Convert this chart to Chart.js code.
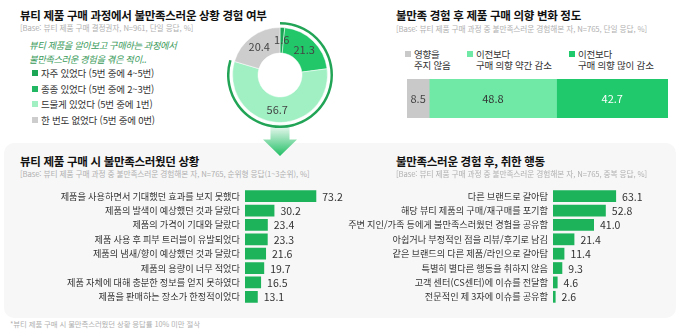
<!DOCTYPE html>
<html lang="ko">
<head>
<meta charset="utf-8">
<script src="https://cdn.jsdelivr.net/npm/chart.js@4.4.1/dist/chart.umd.min.js"></script>
<style>
  html, body { margin: 0; padding: 0; background: #fff; }
  body { width: 680px; height: 336px; position: relative; overflow: hidden;
         font-family: "Noto Sans CJK KR", "Noto Sans", sans-serif; color: #333; }
  .abs { position: absolute; white-space: nowrap; }
  .title { font-size: 11.5px; font-weight: 700; color: #111; letter-spacing: -0.3px; }
  .base { font-size: 7.7px; color: #b0b0b0; letter-spacing: -0.1px; }
  .panel { position: absolute; left: 4px; top: 143px; width: 672px; height: 175px;
           background: #f7f7f7; border-radius: 10px; }
  .sq { display: inline-block; width: 6px; height: 6px; margin-right: 3px; vertical-align: 1px; }
  .leg { font-size: 9.5px; color: #333; line-height: 11px; letter-spacing: -0.2px; }
  .arrow { position: absolute; left: 263px; top: 123px; width: 34px; height: 33px;
           background: linear-gradient(to bottom, rgba(255,255,255,0.9), #22bf65);
           clip-path: polygon(22% 0, 78% 0, 78% 50%, 100% 50%, 50% 100%, 0 50%, 22% 50%); }
  canvas { position: absolute; }
</style>
</head>
<body>

<div class="panel"></div>
<div class="arrow"></div>

<!-- 상단 좌측 -->
<div class="abs title" style="left:20px; top:7px;">뷰티 제품 구매 과정에서 불만족스러운 상황 경험 여부</div>
<div class="abs base" style="left:20px; top:22px;">[Base: 뷰티 제품 구매 결정권자, N=961, 단일 응답, %]</div>
<div class="abs" style="left:29px; top:39px; font-size:9.3px; font-style:italic; color:#3a9a5a; line-height:13.5px; letter-spacing:-0.4px;">
  뷰티 제품을 알아보고 구매하는 과정에서<br>불만족스러운 경험을 겪은 적이..
</div>
<div id="donutLegend" class="abs leg" style="left:32px; top:68px;"></div>

<canvas id="donut" style="left:227px; top:22px;" width="106" height="106"></canvas>

<!-- 상단 우측 -->
<div class="abs title" style="left:396px; top:7px;">불만족 경험 후 제품 구매 의향 변화 정도</div>
<div class="abs base" style="left:396px; top:23px;">[Base: 뷰티 제품 구매 과정 중 불만족스러운 경험해본 자, N=765, 단일 응답, %]</div>
<div id="stackLegend"></div>
<canvas id="stack" style="left:407px; top:79px;" width="261" height="39"></canvas>

<!-- 하단 -->
<div class="abs title" style="left:20px; top:153px;">뷰티 제품 구매 시 불만족스러웠던 상황</div>
<div class="abs base" style="left:20px; top:168px;">[Base: 뷰티 제품 구매 과정 중 불만족스러운 경험해본 자, N=765, 순위형 응답(1~3순위), %]</div>
<canvas id="barLeft" style="left:0px; top:189px;" width="350" height="115"></canvas>

<div class="abs title" style="left:396px; top:153px;">불만족스러운 경험 후, 취한 행동</div>
<div class="abs base" style="left:396px; top:168px;">[Base: 뷰티 제품 구매 과정 중 불만족스러운 경험해본 자, N=765, 중복 응답, %]</div>
<canvas id="barRight" style="left:345px; top:189px;" width="335" height="115"></canvas>

<div class="abs base" style="left:10px; top:318px; font-size:7.4px;">*뷰티 제품 구매 시 불만족스러웠던 상황 응답률 10% 미만 절삭</div>

<script>
// 경험 여부 (도넛)
const experienceLabels = ['자주 있었다 (5번 중에 4~5번)', '종종 있었다 (5번 중에 2~3번)', '드물게 있었다 (5번 중에 1번)', '한 번도 없었다 (5번 중에 0번)'];
const experienceValues = [1.6, 21.3, 56.7, 20.4];
const experienceColors = ['#1aa655', '#22c76a', '#a0f0c4', '#cdcdcd'];
const experienceLegendColors = ['#1aa655', '#22b863', '#a0f0c4', '#cdcdcd'];

// 구매 의향 변화 (누적 막대)
const intentLabels = [['영향을', '주지 않음'], ['이전보다', '구매 의향 약간 감소'], ['이전보다', '구매 의향 많이 감소']];
const intentValues = [8.5, 48.8, 42.7];
const intentColors = ['#c9c9c9', '#70e8a6', '#20c96b'];
const intentTextColors = ['#444', '#333', '#fff'];
const intentLegendX = [405, 467, 569];

// 불만족스러웠던 상황
const situationLabels = [
  '제품을 사용하면서 기대했던 효과를 보지 못했다',
  '제품의 발색이 예상했던 것과 달랐다',
  '제품의 가격이 기대와 달랐다',
  '제품 사용 후 피부 트러블이 유발되었다',
  '제품의 냄새/향이 예상했던 것과 달랐다',
  '제품의 용량이 너무 적었다',
  '제품 자체에 대해 충분한 정보를 얻지 못하였다',
  '제품을 판매하는 장소가 한정적이었다'
];
const situationValues = [73.2, 30.2, 23.4, 23.3, 21.6, 19.7, 16.5, 13.1];

// 불만족 경험 후 취한 행동
const actionLabels = [
  '다른 브랜드로 갈아탐',
  '해당 뷰티 제품의 구매/재구매를 포기함',
  '주변 지인/가족 등에게 불만족스러웠던 경험을 공유함',
  '아쉽거나 부정적인 점을 리뷰/후기로 남김',
  '같은 브랜드의 다른 제품/라인으로 갈아탐',
  '특별히 별다른 행동을 취하지 않음',
  '고객 센터(CS센터)에 이슈를 전달함',
  '전문적인 제 3자에 이슈를 공유함'
];
const actionValues = [63.1, 52.8, 41.0, 21.4, 11.4, 9.3, 4.6, 2.6];

const barColor = '#1db35b';
const FONT = '"Noto Sans CJK KR", "Noto Sans", sans-serif';

// 범례 만들기
document.getElementById('donutLegend').innerHTML = experienceLabels.map((l, i) =>
  `<div style="height:15.7px"><span class="sq" style="background:${experienceLegendColors[i]}"></span>${l}</div>`
).join('');

document.getElementById('stackLegend').innerHTML = intentLabels.map((l, i) =>
  `<div class="abs leg" style="left:${intentLegendX[i]}px; top:49px;">` +
  `<span class="sq" style="background:${intentColors[i]}"></span>${l[0]}<br>` +
  `<span style="display:inline-block;width:9px"></span>${l[1]}</div>`
).join('');

// 도넛 위 숫자
const donutLabels = {
  id: 'donutLabels',
  afterDatasetsDraw(chart) {
    const ctx = chart.ctx;
    const meta = chart.getDatasetMeta(2);
    ctx.save();
    ctx.font = '11px ' + FONT;
    ctx.fillStyle = '#444';
    ctx.textAlign = 'center';
    ctx.textBaseline = 'middle';
    meta.data.forEach((arc, i) => {
      const p = arc.tooltipPosition();
      ctx.fillText(experienceValues[i].toFixed(1), p.x, p.y);
    });
    ctx.restore();
  }
};

const experienceTotal = experienceValues.reduce((a, b) => a + b, 0);
const experienceYes = experienceValues[0] + experienceValues[1] + experienceValues[2];

new Chart(document.getElementById('donut'), {
  type: 'doughnut',
  data: {
    labels: experienceLabels,
    datasets: [
      { data: [experienceYes, experienceTotal - experienceYes], backgroundColor: ['#22a456', 'rgba(0,0,0,0)'], borderWidth: 0, weight: 2.5 },
      { data: [100], backgroundColor: ['rgba(0,0,0,0)'], borderWidth: 0, weight: 3 },
      { data: experienceValues, backgroundColor: experienceColors, borderColor: '#fff', borderWidth: 0.5, weight: 25.5 }
    ]
  },
  options: {
    responsive: false,
    animation: false,
    cutout: 22,
    layout: { padding: 0 },
    plugins: { legend: { display: false }, tooltip: { enabled: false } }
  },
  plugins: [donutLabels]
});

// 누적 막대 숫자
const stackLabels = {
  id: 'stackLabels',
  afterDatasetsDraw(chart) {
    const ctx = chart.ctx;
    ctx.save();
    ctx.font = '11px ' + FONT;
    ctx.textAlign = 'center';
    ctx.textBaseline = 'middle';
    chart.data.datasets.forEach((ds, i) => {
      const bar = chart.getDatasetMeta(i).data[0];
      ctx.fillStyle = intentTextColors[i];
      ctx.fillText(ds.data[0].toFixed(1), (bar.x + bar.base) / 2, bar.y);
    });
    ctx.restore();
  }
};

new Chart(document.getElementById('stack'), {
  type: 'bar',
  data: {
    labels: [''],
    datasets: intentValues.map((v, i) => ({
      label: intentLabels[i].join(' '),
      data: [v],
      backgroundColor: intentColors[i],
      barPercentage: 1,
      categoryPercentage: 1
    }))
  },
  options: {
    indexAxis: 'y',
    responsive: false,
    animation: false,
    layout: { padding: 0 },
    scales: {
      x: { display: false, stacked: true, min: 0, max: 100 },
      y: { display: false, stacked: true }
    },
    plugins: { legend: { display: false }, tooltip: { enabled: false } }
  },
  plugins: [stackLabels]
});

// 가로 막대 값 표시
const valueLabels = {
  id: 'valueLabels',
  afterDatasetsDraw(chart) {
    const ctx = chart.ctx;
    const meta = chart.getDatasetMeta(0);
    ctx.save();
    ctx.font = '10.5px ' + FONT;
    ctx.fillStyle = '#333';
    ctx.textAlign = 'left';
    ctx.textBaseline = 'middle';
    meta.data.forEach((bar, i) => {
      ctx.fillText(chart.data.datasets[0].data[i].toFixed(1), bar.x + 6, bar.y + 0.5);
    });
    ctx.restore();
  }
};

function makeBarChart(id, labels, values, axisWidth, padRight) {
  return new Chart(document.getElementById(id), {
    type: 'bar',
    data: {
      labels: labels,
      datasets: [{
        data: values,
        backgroundColor: barColor,
        barPercentage: 0.82,
        categoryPercentage: 1
      }]
    },
    options: {
      indexAxis: 'y',
      responsive: false,
      animation: false,
      layout: { padding: { left: 0, right: padRight, top: 0, bottom: 0 } },
      scales: {
        x: { display: false, min: 0, max: 100 },
        y: {
          border: { display: false },
          grid: { display: false, drawTicks: false },
          ticks: { color: '#333', padding: 5, autoSkip: false, font: { family: FONT, size: 9.2 } },
          afterFit(scale) {
            scale.width = axisWidth;
            scale.paddingTop = 0;
            scale.paddingBottom = 0;
          }
        }
      },
      plugins: { legend: { display: false }, tooltip: { enabled: false } }
    },
    plugins: [valueLabels]
  });
}

makeBarChart('barLeft', situationLabels, situationValues, 245, 7.6);
makeBarChart('barRight', actionLabels, actionValues, 208, 27);
</script>
</body>
</html>
